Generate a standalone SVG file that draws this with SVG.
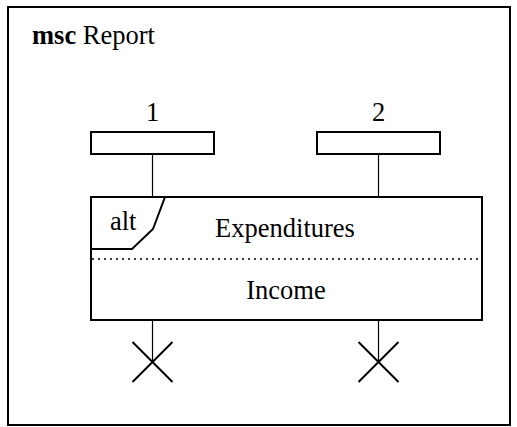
<svg xmlns="http://www.w3.org/2000/svg" width="517" height="427" viewBox="0 0 517 427">
  <style>
    .frame { fill: #fff; stroke: #000; stroke-width: 2; }
    .box { fill: #fff; stroke: #000; stroke-width: 2; }
    .life { stroke: #000; stroke-width: 1.2; fill: none; }
    .stop { stroke: #000; stroke-width: 2; fill: none; }
    .sep { stroke: #000; stroke-width: 1.3; stroke-dasharray: 2 4; }
  </style>
  <rect width="517" height="427" fill="#fff"/>
  <rect id="frame" class="frame" x="8" y="7" width="502" height="418"/>
  <text x="32" y="44" style="font-family: 'Liberation Serif', serif; font-size: 26.5px; fill: #000"><tspan style="font-weight: bold">msc</tspan> Report</text>

  <g id="connectors">
    <line class="life" x1="152.5" y1="154" x2="152.5" y2="197"/>
    <line class="life" x1="378.5" y1="154" x2="378.5" y2="197"/>
    <line class="life" x1="152.5" y1="320" x2="152.5" y2="362"/>
    <line class="life" x1="378.5" y1="320" x2="378.5" y2="362"/>
  </g>

  <g id="instance1">
    <text x="152.5" y="121" text-anchor="middle" style="font-family: 'Liberation Serif', serif; font-size: 26.5px; fill: #000">1</text>
    <rect class="box" x="91" y="132" width="123" height="22"/>
  </g>
  <g id="instance2">
    <text x="378.5" y="121" text-anchor="middle" style="font-family: 'Liberation Serif', serif; font-size: 26.5px; fill: #000">2</text>
    <rect class="box" x="317" y="132" width="123" height="22"/>
  </g>

  <g id="alt">
    <rect class="box" x="91" y="197" width="391" height="123"/>
    <path class="box" d="M91 249 H132 L153 229 L165 197" fill="none"/>
    <text x="110" y="230" style="font-family: 'Liberation Serif', serif; font-size: 26.5px; fill: #000">alt</text>
    <text x="285" y="237" text-anchor="middle" style="font-family: 'Liberation Serif', serif; font-size: 26.5px; fill: #000">Expenditures</text>
    <line class="sep" x1="92" y1="259" x2="481" y2="259"/>
    <text x="286" y="299" text-anchor="middle" style="font-family: 'Liberation Serif', serif; font-size: 26.5px; fill: #000">Income</text>
  </g>

  <g id="stop1">
    <path class="stop" d="M132.5 342 L172.5 382 M172.5 342 L132.5 382"/>
  </g>
  <g id="stop2">
    <path class="stop" d="M358.5 342 L398.5 382 M398.5 342 L358.5 382"/>
  </g>
</svg>
